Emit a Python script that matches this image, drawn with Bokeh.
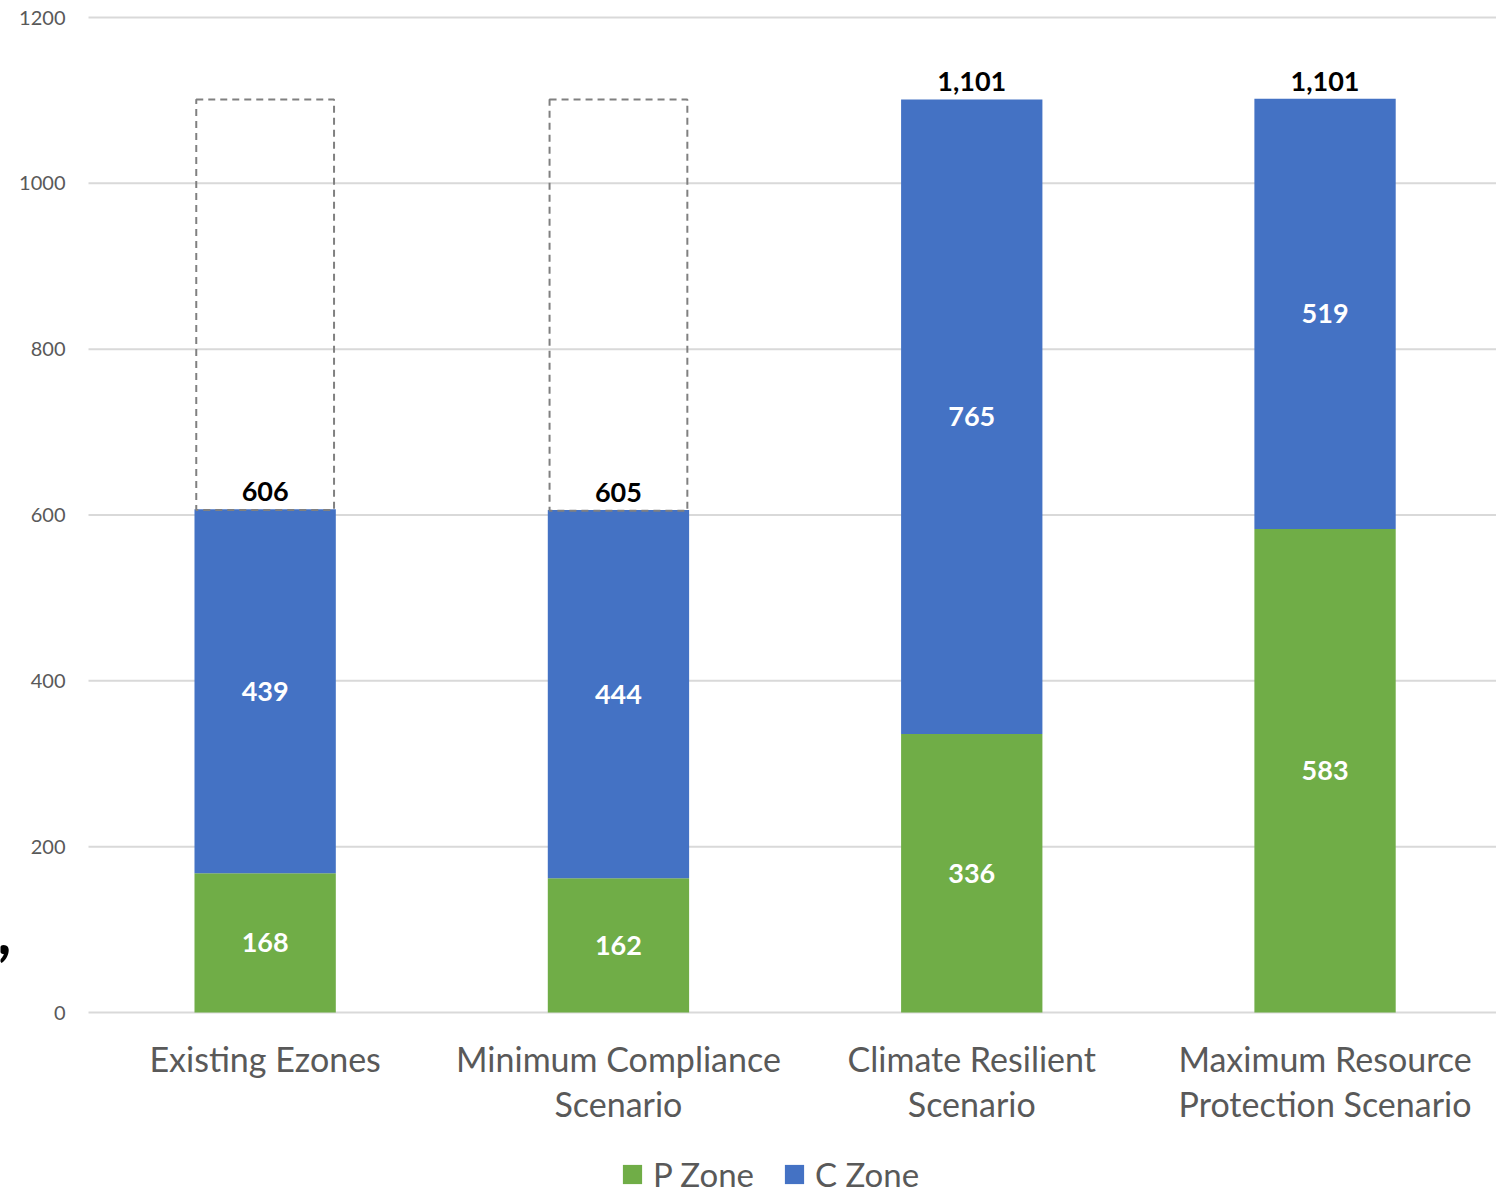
from bokeh.plotting import figure
from bokeh.models import (ColumnDataSource, Range1d, Legend, LegendItem, Label)
from bokeh.core.properties import value
from bokeh.embed import file_html
from bokeh.resources import INLINE

categories = ["Existing Ezones", "Minimum Compliance\nScenario",
              "Climate Resilient\nScenario", "Maximum Resource\nProtection Scenario"]
p_zone = [168, 162, 336, 583]
c_zone = [439, 444, 765, 519]
totals = [606, 605, 1101, 1101]
total_labels = ["606", "605", "1,101", "1,101"]
targets = [1101, 1101]          # dashed outlines over first two bars
y_ticks = [0, 200, 400, 600, 800, 1000, 1200]

GREEN = "#70AD47"
BLUE = "#4472C4"
GRID = "#D9D9D9"
TXT = "#595959"
FONT = "Lato"

W, H = 1496, 1190
PLOT_L, PLOT_T, PLOT_B = 88, 17, 1012      # pixel edges of the value area
PX_PER_CAT = 353.3
PX_PER_UNIT = (PLOT_B - PLOT_T) / 1200

xs = [i + 0.5 for i in range(len(categories))]
src = ColumnDataSource(dict(
    x=xs, p=p_zone, c=c_zone,
    p_mid=[v / 2 for v in p_zone],
    c_mid=[a + b / 2 for a, b in zip(p_zone, c_zone)],
    p_lab=[str(v) for v in p_zone],
    c_lab=[str(v) for v in c_zone],
    tot=totals, tot_lab=total_labels,
    cat=categories, zero=[0] * len(categories),
))

p = figure(width=W, height=H, output_backend="svg", toolbar_location=None,
           x_range=Range1d(-PLOT_L / PX_PER_CAT, (W - PLOT_L) / PX_PER_CAT),
           y_range=Range1d(-(H - PLOT_B) / PX_PER_UNIT, 1200 + PLOT_T / PX_PER_UNIT),
           min_border=0)
p.outline_line_color = None
p.axis.visible = False
p.grid.grid_line_color = None

# gridlines
p.segment(x0=[0] * len(y_ticks), x1=[len(categories)] * len(y_ticks),
          y0=y_ticks, y1=y_ticks, line_color=GRID, line_width=2)
# y tick labels
p.text(x=[0] * len(y_ticks), y=y_ticks, text=[str(t) for t in y_ticks],
       x_offset=-23, text_align="right", text_baseline="middle",
       text_font=value(FONT), text_font_size="20px", text_color=TXT)

rs = p.vbar_stack(["p", "c"], x="x", width=0.4, source=src,
                  color=[GREEN, BLUE], line_color=None)

# dashed target outlines
tsrc = ColumnDataSource(dict(x=xs[:2], bottom=totals[:2], top=targets))
p.vbar(x="x", width=0.39, bottom="bottom", top="top", source=tsrc,
       fill_color=None, line_color="#808080", line_width=2, line_dash="7 5")

# segment labels
LAB = "27px"
p.text(x="x", y="p_mid", text="p_lab", source=src, text_color="white",
       text_font=value(FONT), text_font_style="bold", text_font_size=LAB,
       text_align="center", text_baseline="middle")
p.text(x="x", y="c_mid", text="c_lab", source=src, text_color="white",
       text_font=value(FONT), text_font_style="bold", text_font_size=LAB,
       text_align="center", text_baseline="middle")
p.text(x="x", y="tot", text="tot_lab", source=src, text_color="black",
       text_font=value(FONT), text_font_style="bold", text_font_size=LAB,
       text_align="center", text_baseline="bottom", y_offset=-9)

# category labels
p.text(x="x", y="zero", text="cat", source=src, text_color=TXT,
       text_font=value(FONT), text_font_size="34px", text_align="center",
       text_baseline="top", y_offset=25, text_line_height=1.12)

legend = Legend(items=[LegendItem(label="P Zone", renderers=[rs[0]]),
                       LegendItem(label="C Zone", renderers=[rs[1]])],
                orientation="horizontal", location=(620, -4),
                label_text_font=FONT, label_text_font_size="33px",
                label_text_color=TXT, glyph_width=24, glyph_height=24,
                spacing=28, border_line_color=None, padding=0, margin=0,
                label_standoff=9, background_fill_alpha=0)
p.add_layout(legend, "center")

p.add_layout(Label(x=-4, y=H - 930, x_units="screen", y_units="screen", text=",",
                   text_font=FONT, text_font_style="bold", text_font_size="64px",
                   text_color="black", text_align="left",
                   text_baseline="alphabetic"))

open("out.html", "w").write(file_html(p, INLINE))
